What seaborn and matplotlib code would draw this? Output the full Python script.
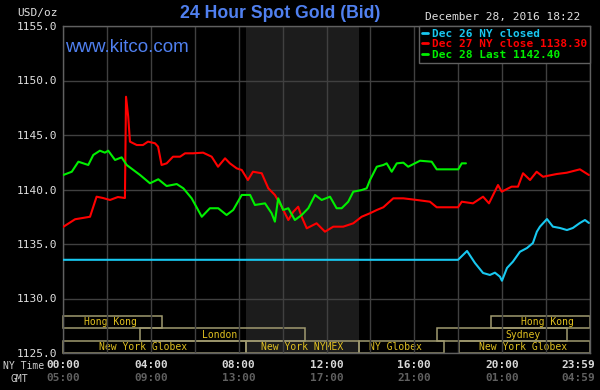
import pandas as pd
import matplotlib
matplotlib.use("Agg")
import matplotlib.pyplot as plt
import matplotlib.transforms as mtransforms
from matplotlib.patches import Rectangle
from matplotlib.lines import Line2D
import seaborn as sns

# hours since 00:00 NY time, price in USD/oz
dec26_hours = [0.0, 17.99, 18.40, 18.76, 19.13, 19.44, 19.67, 19.90, 19.99, 20.22, 20.49,
               20.81, 21.13, 21.40, 21.58, 21.72, 22.04, 22.31, 22.63, 22.95, 23.22, 23.54,
               23.77, 23.95]
dec26_price = [1133.55, 1133.55, 1134.36, 1133.26, 1132.34, 1132.16, 1132.37, 1132.00, 1131.63,
               1132.80, 1133.38, 1134.29, 1134.63, 1135.09, 1136.13, 1136.59, 1137.29, 1136.59,
               1136.47, 1136.28, 1136.47, 1136.93, 1137.20, 1136.93]

dec27_hours = [0.0, 0.55, 1.23, 1.53, 1.82, 2.14, 2.50, 2.82, 2.87, 2.97, 3.05, 3.36, 3.64,
               3.87, 4.19, 4.33, 4.49, 4.72, 5.01, 5.33, 5.56, 5.92, 6.38, 6.77, 7.06, 7.38,
               7.60, 7.91, 8.14, 8.42, 8.65, 9.05, 9.35, 9.65, 9.96, 10.26, 10.49, 10.71, 10.87,
               11.10, 11.55, 11.93, 12.31, 12.76, 13.22, 13.60, 13.98, 14.29, 14.59, 15.04,
               15.50, 16.11, 16.71, 17.02, 17.99, 18.16, 18.67, 19.13, 19.40, 19.81, 19.98,
               20.43, 20.72, 20.95, 21.27, 21.57, 21.86, 22.48, 22.94, 23.54, 23.95]
dec27_price = [1136.56, 1137.27, 1137.50, 1139.34, 1139.22, 1139.04, 1139.31, 1139.22, 1148.51,
               1146.68, 1144.39, 1144.08, 1144.08, 1144.39, 1144.24, 1143.93, 1142.25, 1142.40,
               1143.01, 1143.01, 1143.32, 1143.32, 1143.38, 1143.01, 1142.09, 1142.86, 1142.40,
               1141.94, 1141.79, 1140.87, 1141.63, 1141.49, 1140.11, 1139.50, 1138.42, 1137.20,
               1137.96, 1138.42, 1137.50, 1136.44, 1136.90, 1136.13, 1136.59, 1136.59, 1136.90,
               1137.50, 1137.82, 1138.12, 1138.37, 1139.19, 1139.19, 1139.04, 1138.88, 1138.37,
               1138.37, 1138.88, 1138.73, 1139.34, 1138.73, 1140.41, 1139.80, 1140.26, 1140.26,
               1141.49, 1140.87, 1141.63, 1141.17, 1141.42, 1141.54, 1141.85, 1141.33]

dec28_hours = [0.01, 0.40, 0.70, 1.15, 1.38, 1.68, 1.91, 2.06, 2.37, 2.67, 2.90, 3.51, 3.96,
               4.34, 4.72, 5.18, 5.48, 5.86, 6.32, 6.69, 7.07, 7.45, 7.75, 8.14, 8.52, 8.74,
               9.20, 9.50, 9.65, 9.80, 10.03, 10.26, 10.56, 10.87, 11.17, 11.48, 11.78, 12.16,
               12.46, 12.69, 12.99, 13.22, 13.60, 13.83, 13.98, 14.29, 14.59, 14.74, 14.97,
               15.20, 15.50, 15.72, 16.26, 16.79, 17.02, 18.00, 18.16, 18.35]
dec28_price = [1141.33, 1141.63, 1142.55, 1142.25, 1143.17, 1143.56, 1143.38, 1143.56, 1142.71,
               1142.95, 1142.25, 1141.33, 1140.57, 1140.94, 1140.32, 1140.50, 1140.11, 1139.19,
               1137.50, 1138.28, 1138.28, 1137.66, 1138.12, 1139.50, 1139.50, 1138.58, 1138.73,
               1137.82, 1137.05, 1139.19, 1138.12, 1138.28, 1137.20, 1137.66, 1138.28, 1139.50,
               1139.04, 1139.34, 1138.28, 1138.28, 1138.88, 1139.80, 1139.95, 1140.11, 1140.87,
               1142.09, 1142.25, 1142.40, 1141.63, 1142.40, 1142.46, 1142.09, 1142.64, 1142.55,
               1141.85, 1141.85, 1142.40, 1142.40]

series_labels = ["Dec 26 NY closed", "Dec 27 NY close 1138.30", "Dec 28 Last 1142.40"]
series_colors = ["#18c8f0", "#ff0000", "#00f000"]

# trading sessions (row 0 = top)
session_names = ["Hong Kong", "London", "New York Globex", "New York NYMEX", "NY Globex",
                 "Sydney", "Hong Kong", "New York Globex"]
session_start = [0.0, 3.5, 0.0, 8.33, 13.5, 17.03, 19.49, 18.03]
session_end = [4.5, 11.0, 8.33, 13.5, 17.35, 22.95, 24.0, 24.0]
session_row = [0, 1, 2, 2, 2, 1, 0, 2]
session_text_at = [2.14, 7.15, 3.64, 10.88, 15.16, 20.95, 22.04, 20.95]

ny_ticks = ["00:00", "04:00", "08:00", "12:00", "16:00", "20:00", "23:59"]
gmt_ticks = ["05:00", "09:00", "13:00", "17:00", "21:00", "01:00", "04:59"]
tick_hours = [0, 4, 8, 12, 16, 20, 24]

sns.set_style("dark", {"axes.facecolor": "black", "figure.facecolor": "black"})
mono = "DejaVu Sans Mono"

fig = plt.figure(figsize=(6, 3.9), dpi=100, facecolor="black")
ax = fig.add_axes([63 / 600, 1 - 353 / 390, 527 / 600, 327 / 390])
ax.set_facecolor("black")

frames = []
for h, p, lab in zip([dec26_hours, dec27_hours, dec28_hours],
                     [dec26_price, dec27_price, dec28_price], series_labels):
    frames.append(pd.DataFrame({"hour": h, "price": p, "series": lab}))
df = pd.concat(frames, ignore_index=True)

sns.lineplot(data=df, x="hour", y="price", hue="series", palette=series_colors,
             linewidth=1.5, ax=ax, legend=False, zorder=3, estimator=None, sort=False)

# NYMEX hours shading
ax.axvspan(session_start[3], session_end[3], color="#1c1c1c", zorder=0.1, lw=0)

ax.set_xlim(0, 24)
ax.set_ylim(1125, 1155)
ax.set_xticks(range(0, 25, 2))
ax.set_xticklabels([])
ax.set_yticks(range(1125, 1156, 5))
ax.set_yticklabels([f"{v:.1f}" for v in range(1125, 1156, 5)], family=mono, fontsize=8,
                   color="#e0e0e0")
ax.tick_params(length=0, pad=4)
ax.grid(True, color="#404040", lw=1)
ax.set_axisbelow(True)
ax.set_xlabel("")
ax.set_ylabel("")
for s in ax.spines.values():
    s.set_color("#606060")
    s.set_linewidth(1)
    s.set_visible(True)

# session boxes
trans = mtransforms.blended_transform_factory(ax.transData, ax.transAxes)
row_h = 0.0377
for name, a, b, r, tx in zip(session_names, session_start, session_end, session_row,
                             session_text_at):
    y0 = (2 - r) * row_h
    ax.add_patch(Rectangle((a, y0), b - a, row_h, transform=trans, facecolor="none",
                           edgecolor="#a09a70", lw=1.1, zorder=0.3, clip_on=False))
    ax.text(tx, y0 + row_h / 2, name, transform=trans, ha="center", va="center",
            family=mono, fontsize=7, color="#e0c020", zorder=0.4)

# time labels
for h, ny, gmt in zip(tick_hours, ny_ticks, gmt_ticks):
    xh = h if h < 24 else 24.25
    ha = "center" if h < 24 else "right"
    ax.text(xh, -0.036, ny, transform=trans, ha=ha, va="center", family=mono,
            fontsize=8, fontweight="bold", color="#d8d8d8", clip_on=False)
    ax.text(xh, -0.076, gmt, transform=trans, ha=ha, va="center", family=mono,
            fontsize=8, fontweight="bold", color="#606060", clip_on=False)

fig.text(3 / 600, 1 - 366 / 390, "NY Time", ha="left", va="center", family=mono,
         fontsize=7, color="#d0d0d0")
fig.text(19 / 600, 1 - 379 / 390, "GMT", ha="center", va="center", family=mono,
         fontsize=7, color="#d0d0d0")
fig.text(58 / 600, 1 - 13 / 390, "USD/oz", ha="right", va="center", family=mono,
         fontsize=8, color="#e0e0e0")

fig.text(280 / 600, 1 - 14 / 390, "24 Hour Spot Gold (Bid)", ha="center", va="center",
         family="Liberation Sans", fontsize=12.7, fontweight="bold", color="#5080f0")
fig.text(65 / 600, 1 - 47 / 390, "www.kitco.com", ha="left", va="center",
         family="Liberation Sans", fontsize=13.5, color="#5080f0")
fig.text(503 / 600, 1 - 17 / 390, "December 28, 2016 18:22", ha="center", va="center",
         family=mono, fontsize=8, color="#e0e0e0")

handles = [Line2D([], [], color=c, lw=2) for c in series_colors]
leg = ax.legend(handles, series_labels, loc="upper right", borderaxespad=0, frameon=True,
                fancybox=False, handlelength=0.5, handletextpad=0.4, labelspacing=0.05,
                borderpad=0.25, labelcolor="linecolor",
                prop={"family": mono, "size": 8, "weight": "bold"})
leg.get_frame().set_facecolor("black")
leg.get_frame().set_edgecolor("#606060")
leg.get_frame().set_linewidth(1)
leg.get_frame().set_alpha(1)

fig.savefig("out.png", dpi=100, facecolor="black")
